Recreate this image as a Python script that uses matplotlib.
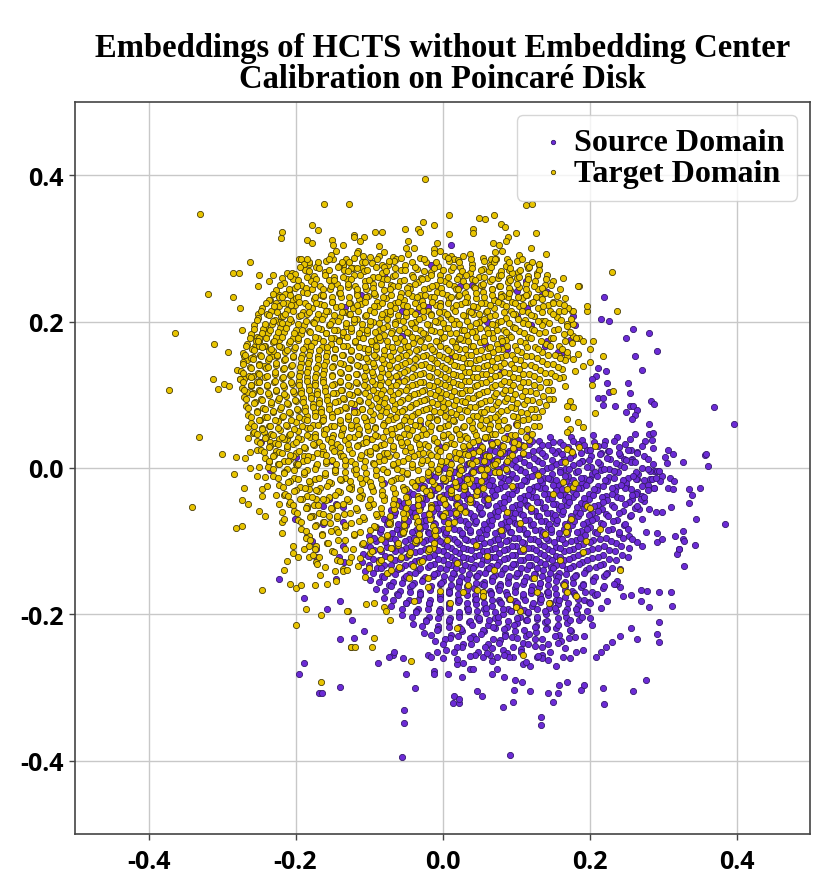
import numpy as np
import matplotlib
matplotlib.use("Agg")
import matplotlib.pyplot as plt

# ---------------- data: flat x,y pairs, in thousandths of the axis unit ----------------
title_text = "Embeddings of HCTS without Embedding Center\nCalibration on Poincaré Disk"
series_labels = ["Source Domain", "Target Domain"]
tick_values = [-0.4, -0.2, 0.0, 0.2, 0.4]
tick_labels = ["-0.4", "-0.2", "0.0", "0.2", "0.4"]

target_outer = [
-330,347, -364,184, -372,107, -319,238, -311,170, -312,121, -297,115, -291,112, -305,108, -292,159,
-285,267, -277,267, -262,282, -285,233, -276,218, -273,188, -250,264, -251,249, -251,210, -236,256,
-231,264, -220,314, -218,323, -212,267, -205,267, -218,259, -222,237, -235,229, -227,226, -241,193,
-270,153, -266,147, -258,152, -253,179, -249,174, -255,167, -249,167, -242,167, -280,134, -276,121,
-270,121, -258,126, -249,119, -261,112, -266,104, -243,140, -232,153, -230,160, -226,174, -222,175,
-223,199, -220,208, -209,242, -203,229, -195,285, -182,279, -184,312, -178,307, -178,332, -170,325,
-161,360, -127,360, -150,312, -149,304, -135,304, -145,296, -149,286, -135,277, -120,318, -122,273,
-331,42, -300,19, -284,-8, -341,-53, -281,-82, -273,-79, -273,-44, -265,-49, -270,-27, -250,-59,
-242,-66, -281,15, -269,14, -265,56, -265,41, -258,48, -245,-167, -216,-140, -211,-127, -207,-158,
-200,-164, -192,-160, -174,-160, -157,-158, -186,-193, -200,-215, -165,-201, -165,-293, -128,-195, -124,-245,
-218,-89, -218,-74, -215,-70, -203,-107, -203,-116, -196,-122, -222,-49, -209,-49, -218,-60, -246,-29,
-246,-38, -239,-25, -226,-37, -216,-37, -253,-11, -242,-12, -262,0, -250,1, -236,8, -262,22,
-253,25, -243,49, -235,36, -226,23, -223,40, -212,40, -208,12, -199,5, -189,16, -181,-29,
-172,-42, -185,-52, -176,-66, -162,-74, -181,-93, -172,-107, -189,-111, -181,-121, -172,-129, -154,-66,
-145,-84, -146,-141, -135,-138, -127,-129, -145,-155,
186,248, 238,214, 205,173, 219,153, 232,105, 208,75, 200,162, 176,215, 178,214, 196,215,
196,221, 169,197, 177,197, 177,181, 186,177, 191,174, 159,153, 169,153, 177,149, 184,156,
191,140, 180,133, 200,145, 164,125, 166,112, 203,114, 173,92, 177,84, 169,85, 169,67,
184,63, 191,56, 173,53, 169,49, 186,29, 208,30, 169,26, 176,22, 166,8, 164,-19,
177,-26, 170,-29, 169,-79, 168,-88, 197,-52, 214,-84, 191,-115, 230,268,
-24,395, 114,359, 122,360, 9,345, 70,345, 49,341, 58,340, -26,336, -12,332, 80,334,
85,329, 42,326, 41,321, -51,327, -34,326, -31,322, -92,323, -82,322, 100,321, 127,321,
89,315, 86,310, 9,319, -120,316, -107,315, -112,310, -47,310, -49,300, -39,301, -8,307,
-12,299, -3,296, 69,308, 77,304, 120,300, 141,293, 28,289, 11,290, 15,286, 66,285,
73,285, 64,277, 81,297, -86,303, -86,289, -68,288, -74,278, -82,278, -115,297, -109,282,
-108,289, -193,285, -182,281, -135,277, -124,273, 115,277, 131,277, 91,271, 95,267, 164,260,
185,249, 54,248, 76,260, 89,234, 109,234, 115,236, 132,234, 146,214, 158,226, 136,201,
-43,-264, -124,-244, -119,-245, -96,-244, -93,-232, -72,-207, 20,-218, 109,-256, 241,-140, -130,-195,
-104,-186, -93,-184, -80,-190, -77,-196, -39,-182, -20,-162, -3,-168, 28,-170, 47,-166, 55,-170,
92,-179, 105,-196, 128,-170, 170,-170, 182,-175,
30,-60, 62,-42, 95,-25, 120,-55, 150,-35, 80,-85, 45,-105, 110,-110, 140,-90, 175,-70,
20,-130, 70,-140, 125,-150, 160,-125, 195,-100, 55,-175, 100,-190, 145,-185, 35,-160, 88,-60,
180,-20, 130,-10, -20,-150, 10,-185, 200,-55, 165,-160, 105,-75, 60,-120,
]

target_core_a = [
-152,291, -131,286, -117,294, -98,288, -80,295, -63,285, -47,292, -30,287, -12,294, 4,289, 21,284, 37,293, 55,287, 71,295, 88,286, 104,291,
-188,279, -172,274, -158,283, -141,276, -127,281, -110,273, -96,280, -80,275, -66,283, -51,277, -35,272, -22,281, -6,276, 9,283, 24,274, 40,279, 55,272, 70,281, 86,276, 101,283, 117,273, 131,279,
-201,265, -187,270, -175,262, -160,268, -148,261, -134,270, -121,264, -107,269, -95,261, -82,267, -68,262, -56,270, -42,264, -29,260, -16,268, -3,263, 11,270, 23,262, 37,267, 50,261, 63,269, 77,264, 90,260, 103,268, 116,262, 129,267, 142,263,
-216,253, -203,258, -192,250, -179,256, -167,249, -155,257, -143,252, -130,258, -119,249, -106,255, -94,251, -81,258, -70,250, -58,256, -45,248, -33,254, -21,259, -9,250, 3,256, 16,249, 28,255, 40,258, 52,250, 65,256, 77,249, 89,254, 101,259, 114,251, 126,256, 139,250, 151,255,
-226,243, -214,238, -201,246, -190,240, -178,245, -165,237, -153,244, -141,239, -129,247, -117,240, -104,245, -92,237, -80,243, -68,248, -56,239, -44,244, -31,237, -19,246, -7,241, 6,236, 18,244, 30,239, 43,247, 55,240, 67,245, 79,238, 92,243, 104,247, 117,239, 130,244, 146,238, 160,245,
-236,229, -223,233, -211,226, -199,232, -187,225, -175,231, -162,235, -150,227, -138,233, -126,225, -114,231, -102,235, -89,227, -77,232, -65,225, -53,230, -41,235, -28,228, -16,233, -4,225, 9,231, 21,235, 33,227, 45,232, 58,225, 70,230, 82,235, 95,227, 108,232, 121,226, 135,231, 151,227, 166,232,
-246,219, -234,214, -223,221, -212,216, -201,222, -190,213, -178,219, -167,224, -156,215, -145,220, -133,213, -122,219, -111,224, -99,216, -88,221, -77,213, -65,218, -54,223, -43,214, -32,220, -20,215, -9,222, 2,213, 14,218, 25,224, 36,215, 47,220, 59,213, 70,219, 81,224, 93,215, 104,221, 117,213, 130,218, 144,223, 158,215, 171,219,
-251,205, -239,210, -228,202, -217,208, -206,201, -195,207, -184,211, -172,203, -161,209, -150,201, -139,206, -127,211, -116,203, -105,208, -94,200, -83,206, -71,211, -60,202, -49,207, -38,200, -26,206, -15,211, -4,203, 8,208, 19,201, 30,207, 41,211, 53,202, 64,208, 75,200, 87,205, 99,210, 112,202, 125,207, 140,201, 156,206, 175,203,
-256,195, -244,190, -232,197, -221,191, -210,198, -199,189, -188,195, -176,199, -165,190, -154,196, -143,189, -131,194, -120,199, -109,190, -98,196, -86,188, -75,194, -64,199, -53,191, -41,196, -30,189, -19,195, -7,199, 4,191, 15,197, 27,189, 38,194, 49,199, 61,190, 72,196, 84,188, 96,193, 109,198, 122,190, 136,195, 152,189, 170,194,
-261,183, -249,178, -238,185, -226,179, -215,186, -204,177, -193,183, -181,187, -170,178, -159,184, -148,177, -136,182, -125,187, -114,179, -103,185, -91,176, -80,182, -69,187, -58,178, -46,184, -35,177, -24,183, -12,187, -1,178, 10,184, 22,176, 33,182, 44,187, 56,179, 67,184, 79,177, 91,182, 104,187, 117,179, 131,184, 147,177, 165,183, 182,178,
-266,169, -254,174, -243,166, -231,172, -220,165, -209,171, -197,175, -186,167, -175,172, -164,165, -152,170, -141,175, -130,166, -119,172, -107,164, -96,170, -85,175, -74,167, -62,172, -51,165, -40,171, -29,175, -17,166, -6,172, 5,164, 17,170, 28,175, 39,167, 51,172, 62,164, 74,170, 86,175, 99,166, 112,171, 126,165, 141,170, 158,166, 176,171,
-271,157, -259,162, -248,154, -236,160, -225,153, -214,159, -202,163, -191,155, -180,160, -169,153, -157,158, -146,163, -135,154, -124,160, -112,152, -101,158, -90,163, -79,155, -67,160, -56,153, -45,158, -34,163, -22,154, -11,160, 0,152, 12,158, 23,163, 34,155, 46,160, 57,152, 69,158, 81,163, 94,154, 107,159, 121,153, 136,158, 153,154, 170,159,
-272,145, -260,150, -249,142, -238,148, -226,141, -215,147, -204,151, -192,143, -181,148, -170,141, -159,146, -147,151, -136,142, -125,148, -114,140, -102,146, -91,151, -80,143, -69,148, -57,141, -46,146, -35,151, -24,142, -12,148, -1,140, 10,146, 22,151, 33,143, 45,148, 56,140, 68,146, 80,151, 93,142, 106,147, 120,141, 135,146, 151,142, 166,147,
-274,133, -262,138, -251,130, -240,136, -228,129, -217,135, -206,139, -194,131, -183,136, -172,129, -161,134, -149,139, -138,130, -127,136, -116,128, -104,134, -93,139, -82,131, -71,136, -59,129, -48,134, -37,139, -26,130, -14,136, -3,128, 8,134, 20,139, 31,131, 43,136, 54,128, 66,134, 78,139, 91,130, 104,135, 118,129, 133,134, 148,130, 162,135,
-275,121, -263,126, -252,118, -241,124, -229,117, -218,123, -207,127, -195,119, -184,124, -173,117, -162,122, -150,127, -139,118, -128,124, -117,116, -105,122, -94,127, -83,119, -72,124, -60,117, -49,122, -38,127, -27,118, -15,124, -4,116, 7,122, 19,127, 30,119, 42,124, 53,116, 65,122, 77,127, 90,118, 103,123, 117,117, 131,122, 145,118, 158,123,
-273,109, -261,114, -250,106, -239,112, -227,105, -216,111, -205,115, -193,107, -182,112, -171,105, -160,110, -148,115, -137,106, -126,112, -115,104, -103,110, -92,115, -81,107, -70,112, -58,105, -47,110, -36,115, -25,106, -13,112, -2,104, 9,110, 21,115, 32,107, 44,112, 55,104, 67,110, 79,115, 92,106, 105,111, 119,105, 133,110, 149,106,
-270,97, -258,102, -247,94, -236,100, -224,93, -213,99, -202,103, -190,95, -179,100, -168,93, -157,98, -145,103, -134,94, -123,100, -112,92, -100,98, -89,103, -78,95, -67,100, -55,93, -44,98, -33,103, -22,94, -10,100, 1,92, 12,98, 24,103, 35,95, 47,100, 58,92, 70,98, 82,103, 95,94, 108,99, 122,93, 137,98, 150,94,
-267,85, -255,90, -244,82, -233,88, -221,81, -210,87, -199,91, -187,83, -176,88, -165,81, -154,86, -142,91, -131,82, -120,88, -109,80, -97,86, -86,91, -75,83, -64,88, -52,81, -41,86, -30,91, -19,82, -7,88, 4,80, 15,86, 27,91, 38,83, 50,88, 61,80, 73,86, 85,91, 98,82, 111,87, 126,81, 141,86,
-264,73, -252,78, -241,70, -230,76, -218,69, -207,75, -196,79, -184,71, -173,76, -162,69, -151,74, -139,79, -128,70, -117,76, -106,68, -94,74, -83,79, -72,71, -61,76, -49,69, -38,74, -27,79, -16,70, -4,76, 7,68, 18,74, 30,79, 41,71, 53,76, 64,68, 76,74, 88,79, 101,70, 115,75, 130,69,
-260,61, -248,66, -236,58, -224,64, -212,57, -200,63, -188,67, -176,59, -164,64, -152,57, -140,62, -128,67, -116,58, -104,64, -92,56, -80,62, -68,67, -56,59, -44,64, -32,57, -20,62, -8,67, 4,58, 16,64, 28,56, 40,62, 52,67, 64,59, 76,64, 89,56, 102,62, 116,67, 131,58,
-257,49, -245,54, -233,46, -221,52, -209,45, -197,51, -185,55, -173,47, -161,52, -149,45, -137,50, -125,55, -113,46, -101,52, -89,44, -77,50, -65,55, -53,47, -41,52, -29,45, -17,50, -5,55, 7,46, 19,52, 31,44, 43,50, 55,55, 67,47, 80,52, 93,45, 107,50, 122,46,
-252,37, -240,42, -228,34, -216,40, -204,33, -192,39, -180,43, -168,35, -156,40, -144,33, -132,38, -120,43, -108,34, -96,40, -84,32, -72,38, -60,43, -48,35, -36,40, -24,33, -12,38, 0,43, 12,34, 24,40, 36,32, 48,38, 61,43, 74,35, 88,40, 103,33, 118,38,
-247,25, -235,30, -223,22, -211,28, -199,21, -187,27, -175,31, -163,23, -151,28, -139,21, -127,26, -115,31, -103,22, -91,28, -79,20, -67,26, -55,31, -43,23, -31,28, -19,21, -7,26, 5,31, 17,22, 29,28, 41,20, 54,26, 67,31, 81,23, 96,28, 110,21,
-242,13, -229,18, -216,10, -203,16, -190,9, -177,15, -164,19, -151,11, -138,16, -125,9, -112,14, -99,19, -86,10, -73,16, -60,8, -47,14, -34,19, -21,11, -8,16, 5,9, 18,14, 31,19, 45,10, 59,16, 74,9, 90,14,
-237,1, -224,6, -211,-2, -198,4, -185,-3, -172,3, -159,7, -146,-1, -133,4, -120,-3, -107,2, -94,7, -81,-2, -68,4, -55,-4, -42,2, -29,7, -16,-1, -3,4, 10,-3, 24,2, 38,7, 53,-2, 69,4, 86,-1,
-230,-11, -216,-6, -202,-14, -188,-8, -174,-15, -160,-9, -146,-5, -132,-13, -118,-8, -104,-15, -90,-10, -76,-5, -62,-14, -48,-8, -34,-16, -20,-10, -6,-5, 8,-13, 23,-8, 39,-15, 56,-10, 72,-6,
-222,-23, -208,-18, -194,-26, -180,-20, -166,-27, -152,-21, -138,-17, -124,-25, -110,-20, -96,-27, -82,-22, -68,-17, -54,-26, -40,-20, -26,-28, -12,-22, 3,-17, 19,-25, 36,-20, 55,-27,
-214,-35, -199,-30, -184,-38, -169,-32, -154,-39, -139,-33, -124,-29, -109,-37, -94,-32, -79,-39, -64,-34, -49,-29, -34,-38, -19,-32, -4,-40, 12,-34, 29,-29, 46,-37,
-207,-47, -191,-42, -175,-50, -159,-44, -143,-51, -127,-45, -111,-41, -95,-49, -79,-44, -63,-51, -47,-46, -31,-41, -15,-50, 2,-44, 20,-51, 37,-46,
-202,-59, -185,-54, -168,-62, -151,-56, -134,-63, -117,-57, -100,-53, -83,-61, -66,-56, -49,-63, -32,-58, -15,-53, 3,-62, 22,-57,
-197,-71, -179,-66, -161,-74, -143,-68, -125,-75, -107,-69, -89,-65, -71,-73, -53,-68, -35,-75, -17,-70, 1,-65, 16,-74,
-192,-83, -172,-78, -152,-86, -132,-80, -112,-87, -92,-81, -72,-77, -52,-85, -32,-80, -12,-87, 8,-82,
-186,-95, -164,-90, -142,-98, -120,-92, -98,-99, -76,-93, -54,-89, -32,-97, -10,-92, 6,-99,
-181,-107, -157,-102, -133,-110, -109,-104, -85,-111, -61,-105, -37,-101, -13,-109,
-176,-119, -150,-114, -124,-122, -98,-116, -72,-123, -46,-117, -20,-113,
-171,-131, -143,-126, -115,-134, -87,-128, -59,-135, -31,-129,
-166,-146, -136,-141, -106,-149, -76,-143, -46,-150,
]

target_core_b = [
-185,286, -169,281, -154,285, -137,282, -121,287, -105,281, -89,286, -73,283, -57,287, -41,281, -25,285, -9,282, 7,287, 23,281, 39,285, 56,283, 72,286, 90,281, 108,285, 122,282,
-194,274, -181,269, -168,273, -155,270, -142,275, -129,269, -116,273, -103,270, -90,275, -77,269, -64,273, -51,270, -38,275, -25,269, -12,273, 1,270, 14,275, 27,269, 40,273, 53,270, 66,275, 79,269, 92,273, 105,270, 118,275, 131,270,
-208,262, -196,257, -184,261, -172,258, -160,263, -148,257, -136,261, -124,258, -112,263, -100,257, -88,261, -76,258, -64,263, -52,257, -40,261, -28,258, -16,263, -4,257, 8,261, 20,258, 32,263, 44,257, 56,261, 68,258, 80,263, 92,257, 104,261, 116,258, 128,263, 141,258,
-221,250, -209,245, -198,249, -186,246, -175,251, -163,245, -152,249, -140,246, -129,251, -117,245, -106,249, -94,246, -83,251, -71,245, -60,249, -48,246, -37,251, -25,245, -14,249, -2,246, 9,251, 21,245, 32,249, 44,246, 55,251, 67,245, 78,249, 90,246, 101,251, 113,245, 124,249, 136,246, 148,250,
-231,238, -219,233, -208,237, -196,234, -185,239, -173,233, -162,237, -150,234, -139,239, -127,233, -116,237, -104,234, -93,239, -81,233, -70,237, -58,234, -47,239, -35,233, -24,237, -12,234, -1,239, 11,233, 22,237, 34,234, 45,239, 57,233, 68,237, 80,234, 91,239, 103,233, 114,237, 127,234, 140,239, 156,235,
-240,226, -229,221, -217,225, -206,222, -195,227, -183,221, -172,225, -161,222, -150,227, -138,221, -127,225, -116,222, -105,227, -93,221, -82,225, -71,222, -60,227, -48,221, -37,225, -26,222, -14,227, -3,221, 8,225, 19,222, 31,227, 42,221, 53,225, 64,222, 76,227, 87,221, 98,225, 110,222, 123,227, 137,221, 151,225, 165,222,
-247,214, -236,209, -225,213, -214,210, -203,215, -192,209, -181,213, -170,210, -159,215, -148,209, -137,213, -126,210, -115,215, -104,209, -93,213, -82,210, -71,215, -60,209, -49,213, -38,210, -27,215, -16,209, -5,213, 6,210, 17,215, 28,209, 39,213, 50,210, 61,215, 72,209, 84,213, 96,210, 108,215, 121,209, 135,213, 150,210, 165,214,
-252,202, -241,197, -230,201, -219,198, -208,203, -197,197, -186,201, -175,198, -164,203, -153,197, -142,201, -131,198, -120,203, -109,197, -98,201, -87,198, -76,203, -65,197, -54,201, -43,198, -32,203, -21,197, -10,201, 1,198, 12,203, 23,197, 34,201, 45,198, 56,203, 67,197, 79,201, 91,198, 103,203, 116,197, 130,201, 145,198, 161,202,
-257,190, -246,185, -235,189, -224,186, -213,191, -202,185, -191,189, -180,186, -169,191, -158,185, -147,189, -136,186, -125,191, -114,185, -103,189, -92,186, -81,191, -70,185, -59,189, -48,186, -37,191, -26,185, -15,189, -4,186, 7,191, 18,185, 29,189, 40,186, 51,191, 62,185, 74,189, 86,186, 98,191, 111,185, 125,189, 140,186, 157,190, 174,186,
-262,178, -251,173, -240,177, -229,174, -218,179, -207,173, -196,177, -185,174, -174,179, -163,173, -152,177, -141,174, -130,179, -119,173, -108,177, -97,174, -86,179, -75,173, -64,177, -53,174, -42,179, -31,173, -20,177, -9,174, 2,179, 13,173, 24,177, 35,174, 46,179, 57,173, 69,177, 81,174, 93,179, 106,173, 120,177, 134,174, 150,178, 167,174,
-267,166, -256,161, -245,165, -234,162, -223,167, -212,161, -201,165, -190,162, -179,167, -168,161, -157,165, -146,162, -135,167, -124,161, -113,165, -102,162, -91,167, -80,161, -69,165, -58,162, -47,167, -36,161, -25,165, -14,162, -3,167, 8,161, 19,165, 30,162, 41,167, 52,161, 64,165, 76,162, 88,167, 101,161, 115,165, 130,162, 146,166, 163,162,
-269,154, -258,149, -247,153, -236,150, -225,155, -214,149, -203,153, -192,150, -181,155, -170,149, -159,153, -148,150, -137,155, -126,149, -115,153, -104,150, -93,155, -82,149, -71,153, -60,150, -49,155, -38,149, -27,153, -16,150, -5,155, 6,149, 17,153, 28,150, 39,155, 50,149, 62,153, 74,150, 86,155, 99,149, 113,153, 128,150, 144,154, 160,150,
-271,142, -260,137, -249,141, -238,138, -227,143, -216,137, -205,141, -194,138, -183,143, -172,137, -161,141, -150,138, -139,143, -128,137, -117,141, -106,138, -95,143, -84,137, -73,141, -62,138, -51,143, -40,137, -29,141, -18,138, -7,143, 4,137, 15,141, 26,138, 37,143, 48,137, 60,141, 72,138, 84,143, 97,137, 111,141, 126,138, 142,142, 157,138,
-272,130, -261,125, -250,129, -239,126, -228,131, -217,125, -206,129, -195,126, -184,131, -173,125, -162,129, -151,126, -140,131, -129,125, -118,129, -107,126, -96,131, -85,125, -74,129, -63,126, -52,131, -41,125, -30,129, -19,126, -8,131, 3,125, 14,129, 25,126, 36,131, 47,125, 59,129, 71,126, 83,131, 96,125, 110,129, 125,126, 140,130, 153,126,
-272,118, -261,113, -250,117, -239,114, -228,119, -217,113, -206,117, -195,114, -184,119, -173,113, -162,117, -151,114, -140,119, -129,113, -118,117, -107,114, -96,119, -85,113, -74,117, -63,114, -52,119, -41,113, -30,117, -19,114, -8,119, 3,113, 14,117, 25,114, 36,119, 47,113, 59,117, 71,114, 83,119, 96,113, 110,117, 125,114, 141,118,
-270,106, -259,101, -248,105, -237,102, -226,107, -215,101, -204,105, -193,102, -182,107, -171,101, -160,105, -149,102, -138,107, -127,101, -116,105, -105,102, -94,107, -83,101, -72,105, -61,102, -50,107, -39,101, -28,105, -17,102, -6,107, 5,101, 16,105, 27,102, 38,107, 49,101, 61,105, 73,102, 85,107, 98,101, 112,105, 127,102, 143,106,
-267,94, -256,89, -245,93, -234,90, -223,95, -212,89, -201,93, -190,90, -179,95, -168,89, -157,93, -146,90, -135,95, -124,89, -113,93, -102,90, -91,95, -80,89, -69,93, -58,90, -47,95, -36,89, -25,93, -14,90, -3,95, 8,89, 19,93, 30,90, 41,95, 52,89, 64,93, 76,90, 88,95, 101,89, 115,93, 131,90, 145,94,
-264,82, -253,77, -242,81, -231,78, -220,83, -209,77, -198,81, -187,78, -176,83, -165,77, -154,81, -143,78, -132,83, -121,77, -110,81, -99,78, -88,83, -77,77, -66,81, -55,78, -44,83, -33,77, -22,81, -11,78, 0,83, 11,77, 22,81, 33,78, 44,83, 56,77, 68,81, 80,78, 93,83, 107,77, 121,81, 136,78,
-261,70, -250,65, -239,69, -228,66, -217,71, -206,65, -195,69, -184,66, -173,71, -162,65, -151,69, -140,66, -129,71, -118,65, -107,69, -96,66, -85,71, -74,65, -63,69, -52,66, -41,71, -30,65, -19,69, -8,66, 3,71, 14,65, 25,69, 36,66, 47,71, 59,65, 71,69, 83,66, 96,71, 110,65, 124,69,
-257,58, -246,53, -235,57, -224,54, -213,59, -202,53, -191,57, -180,54, -169,59, -158,53, -147,57, -136,54, -125,59, -114,53, -103,57, -92,54, -81,59, -70,53, -59,57, -48,54, -37,59, -26,53, -15,57, -4,54, 7,59, 18,53, 29,57, 40,54, 51,59, 63,53, 75,57, 88,54, 101,59, 115,53, 125,57,
-253,46, -242,41, -230,45, -219,42, -207,47, -196,41, -184,45, -173,42, -161,47, -150,41, -138,45, -127,42, -115,47, -104,41, -92,45, -81,42, -69,47, -58,41, -46,45, -35,42, -23,47, -12,41, 0,45, 11,42, 23,47, 34,41, 46,45, 58,42, 71,47, 84,41, 98,45, 113,42,
-248,34, -236,29, -224,33, -212,30, -200,35, -188,29, -176,33, -164,30, -152,35, -140,29, -128,33, -116,30, -104,35, -92,29, -80,33, -68,30, -56,35, -44,29, -32,33, -20,30, -8,35, 4,29, 16,33, 28,30, 41,35, 54,29, 68,33, 82,30, 97,35, 111,30,
-243,22, -231,17, -219,21, -207,18, -195,23, -183,17, -171,21, -159,18, -147,23, -135,17, -123,21, -111,18, -99,23, -87,17, -75,21, -63,18, -51,23, -39,17, -27,21, -15,18, -3,23, 9,17, 22,21, 35,18, 49,23, 63,17, 78,21, 94,18,
-236,10, -223,5, -210,9, -197,6, -184,11, -171,5, -158,9, -145,6, -132,11, -119,5, -106,9, -93,6, -80,11, -67,5, -54,9, -41,6, -28,11, -15,5, -2,9, 11,6, 25,11, 40,5, 56,9, 72,6, 88,10,
-230,-2, -216,-7, -202,-3, -188,-6, -174,-1, -160,-7, -146,-3, -132,-6, -118,-1, -104,-7, -90,-3, -76,-6, -62,-1, -48,-7, -34,-3, -20,-6, -6,-1, 9,-7, 25,-3, 42,-6, 60,-2, 77,-5,
-224,-14, -210,-19, -196,-15, -182,-18, -168,-13, -154,-19, -140,-15, -126,-18, -112,-13, -98,-19, -84,-15, -70,-18, -56,-13, -42,-19, -28,-15, -14,-18, 1,-13, 17,-19, 34,-15, 52,-18,
-217,-26, -202,-31, -187,-27, -172,-30, -157,-25, -142,-31, -127,-27, -112,-30, -97,-25, -82,-31, -67,-27, -52,-30, -37,-25, -22,-31, -6,-27, 11,-30, 29,-25, 47,-31,
-210,-38, -194,-43, -178,-39, -162,-42, -146,-37, -130,-43, -114,-39, -98,-42, -82,-37, -66,-43, -50,-39, -34,-42, -17,-37, 1,-43, 20,-39, 38,-42,
-203,-50, -186,-55, -169,-51, -152,-54, -135,-49, -118,-55, -101,-51, -84,-54, -67,-49, -50,-55, -33,-51, -15,-54, 4,-49, 24,-55,
-198,-62, -180,-67, -162,-63, -144,-66, -126,-61, -108,-67, -90,-63, -72,-66, -54,-61, -36,-67, -18,-63, 0,-66, 18,-61,
-193,-74, -173,-79, -153,-75, -133,-78, -113,-73, -93,-79, -73,-75, -53,-78, -33,-73, -13,-79, 8,-75,
-186,-86, -164,-91, -142,-87, -120,-90, -98,-85, -76,-91, -54,-87, -32,-90, -10,-85,
-180,-98, -156,-103, -132,-99, -108,-102, -84,-97, -60,-103, -36,-99, -12,-102,
-174,-110, -148,-115, -122,-111, -96,-114, -70,-109, -44,-115, -18,-111,
-168,-122, -140,-127, -112,-123, -84,-126, -56,-121, -28,-127,
-160,-135, -130,-140, -100,-136, -70,-139, -40,-134,
]

source_outer = [
-247,36, -235,-3, -200,15, -201,-70, -223,-151, -188,-178, -157,-192, -139,-182, -123,-207, -139,-233,
-120,-232, -188,-266, -195,-281, -168,-308, -164,-308, -139,-299, -185,-93, -178,-100, -172,-111, -172,-121,
-162,-77, -162,-52, -154,-42, -145,-49, -135,-53, -135,-74, -145,-152, -135,-107, -134,-129, -141,-121,
220,234, 216,203, 226,201, 259,190, 281,185, 250,178, 292,160, 262,153, 272,134, 223,133,
212,136, 209,126, 204,122, 253,116, 255,103, 224,116, 227,104, 284,92, 288,88, 370,84,
396,60, 255,85, 259,85, 264,79, 262,73, 250,77, 258,67, 235,85, 218,86, 211,96,
218,96, 281,60, 262,47, 281,47, 286,48, 285,38, 276,37, 286,27, 264,22, 258,12,
247,12, 307,25, 314,19, 303,15, 305,7, 327,8, 357,18, 359,19, 361,3, 288,-4,
292,-4, 282,-15, 285,-15, 309,-14, 315,-18, 307,-27, 314,-29, 335,-29, 350,-27, 339,-37,
336,-48, 288,-27, 311,-53, 345,-70, 385,-77, 327,-86, 327,-97, 316,-93, 343,-105, 322,-110,
319,-118, 292,-89, 292,-101, 299,-97, 272,-70, 281,-56, 274,-45, 268,-56, 291,-60, 299,-60,
265,-15, 264,-33, 272,-38, 258,-42, 250,-25, 277,-88, 272,-107, 264,-101, 254,-93,
11,305, -16,277, -80,263, -111,236, -132,220, -55,215, -34,214, -3,225, 24,248, 42,218,
72,229, 101,242, 114,256, 135,237, 142,241, 115,218, 101,208, 120,196, 177,208, 180,195,
174,175, 164,158, 157,158, 139,166, 142,173, 58,170, 78,170, 88,163,
-55,-395, -53,-348, -53,-330, 92,-392, 134,-340, 134,-351, 82,-326, 96,-319, -38,-301, -49,-282,
14,-321, 23,-321, 15,-311, 23,-315, 47,-304, 54,-312, 68,-282, 74,-275, 84,-285, 99,-289,
97,-303, 108,-293, 119,-304, 143,-307, 150,-319, 157,-307, 159,-297, 170,-293, 189,-303, 192,-296,
218,-300, 220,-323, 259,-305, 277,-290, -12,-278, -12,-282, 8,-282, 27,-285, 38,-275, -107,-223,
-88,-266, -68,-255, -73,-258, -66,-252, -54,-260, -20,-255, -16,-258, -7,-252, 0,-259, 20,-268,
28,-266, 42,-275, 55,-258, 65,-255, 74,-258, 82,-248, 96,-258, 109,-268, 119,-271, 128,-258,
136,-255, 143,-262, 155,-271, 164,-258, 173,-259, 182,-252, 191,-248, 209,-258, 216,-251, 223,-244,
231,-238, 241,-230, 257,-218, 264,-234, 295,-238, 292,-227, 295,-210, 312,-189, 311,-170, 322,-111,
328,-134, 328,-100, 281,-190, 270,-182, 257,-173, 241,-163, 245,-175, 236,-159, 270,-166, 278,-168,
295,-170,
-30,60, -60,120, 10,150, -100,40, -150,10, -80,-20, 30,90, 60,200, -20,220, 80,130,
-120,80, 40,250, -55,180, 100,60, -170,-30, -5,30,
]

source_core_a = [
58,41, 73,36, 88,44, 103,38, 117,45, 131,37, 146,43, 160,36, 175,42, 190,38, 205,45, 221,37, 238,43, 255,39,
38,27, 51,32, 64,24, 78,30, 91,23, 104,29, 118,33, 131,25, 144,31, 157,23, 171,29, 184,33, 197,25, 211,30, 225,23, 240,29, 256,24, 272,30,
18,15, 30,20, 42,12, 55,18, 67,11, 79,17, 91,21, 104,13, 116,18, 128,11, 140,16, 153,21, 165,12, 177,18, 190,10, 202,16, 215,21, 228,12, 242,18, 257,11, 274,16,
-2,3, 10,8, 22,0, 34,6, 46,-1, 58,5, 70,9, 82,1, 94,6, 106,-1, 118,4, 130,9, 142,0, 154,6, 166,-2, 178,4, 190,9, 202,1, 214,6, 227,-1, 241,4, 256,8, 272,0, 287,5,
-16,-9, -5,-4, 6,-12, 17,-6, 28,-13, 39,-7, 50,-3, 61,-11, 72,-6, 83,-13, 94,-8, 105,-3, 116,-12, 127,-6, 138,-14, 149,-8, 160,-3, 171,-11, 182,-6, 193,-13, 204,-8, 215,-3, 227,-12, 239,-6, 252,-13, 266,-8, 282,-4, 299,-11,
-31,-21, -19,-16, -8,-24, 3,-18, 14,-25, 25,-19, 36,-15, 47,-23, 58,-18, 69,-25, 80,-20, 91,-15, 102,-24, 113,-18, 124,-26, 135,-20, 146,-15, 157,-23, 168,-18, 179,-25, 190,-20, 201,-15, 212,-24, 224,-18, 236,-26, 249,-20, 263,-15, 279,-23, 296,-18,
-46,-33, -33,-28, -21,-36, -10,-30, 1,-37, 12,-31, 23,-27, 34,-35, 45,-30, 56,-37, 67,-32, 78,-27, 89,-36, 100,-30, 111,-38, 122,-32, 133,-27, 144,-35, 155,-30, 166,-37, 177,-32, 188,-27, 199,-36, 210,-30, 222,-38, 235,-32, 248,-27, 263,-35, 280,-30,
-60,-45, -47,-40, -34,-48, -22,-42, -10,-49, 1,-43, 12,-39, 23,-47, 34,-42, 45,-49, 56,-44, 67,-39, 78,-48, 89,-42, 100,-50, 111,-44, 122,-39, 133,-47, 144,-42, 155,-49, 166,-44, 177,-39, 188,-48, 199,-42, 211,-50, 224,-44, 238,-39, 254,-47, 270,-42,
-70,-57, -57,-52, -44,-60, -31,-54, -19,-61, -7,-55, 5,-51, 16,-59, 27,-54, 38,-61, 49,-56, 60,-51, 71,-60, 82,-54, 93,-62, 104,-56, 115,-51, 126,-59, 137,-54, 148,-61, 159,-56, 170,-51, 181,-60, 192,-54, 204,-62, 217,-56, 231,-51, 246,-59, 262,-54,
-80,-69, -66,-64, -53,-72, -40,-66, -28,-73, -16,-67, -4,-63, 8,-71, 19,-66, 30,-73, 41,-68, 52,-63, 63,-72, 74,-66, 85,-74, 96,-68, 107,-63, 118,-71, 129,-66, 140,-73, 151,-68, 162,-63, 173,-72, 184,-66, 196,-74, 209,-68, 223,-63, 238,-71, 255,-66,
-90,-81, -76,-76, -62,-84, -49,-78, -36,-85, -24,-79, -12,-75, 0,-83, 11,-78, 22,-85, 33,-80, 44,-75, 55,-84, 66,-78, 77,-86, 88,-80, 99,-75, 110,-83, 121,-78, 132,-85, 143,-80, 154,-75, 165,-84, 176,-78, 188,-86, 201,-80, 215,-75, 230,-83, 247,-78,
-100,-93, -85,-88, -71,-96, -58,-90, -45,-97, -32,-91, -20,-87, -8,-95, 4,-90, 15,-97, 26,-92, 37,-87, 48,-96, 59,-90, 70,-98, 81,-92, 92,-87, 103,-95, 114,-90, 125,-97, 136,-92, 147,-87, 158,-96, 169,-90, 181,-98, 194,-92, 208,-87, 223,-95, 240,-90, 258,-97,
-105,-105, -90,-100, -76,-108, -62,-102, -49,-109, -36,-103, -23,-99, -11,-107, 1,-102, 12,-109, 23,-104, 34,-99, 45,-108, 56,-102, 67,-110, 78,-104, 89,-99, 100,-107, 111,-102, 122,-109, 133,-104, 144,-99, 155,-108, 166,-102, 178,-110, 191,-104, 205,-99, 220,-107, 236,-102, 254,-109,
-108,-117, -93,-112, -78,-120, -64,-114, -50,-121, -37,-115, -24,-111, -12,-119, 0,-114, 11,-121, 22,-116, 33,-111, 44,-120, 55,-114, 66,-122, 77,-116, 88,-111, 99,-119, 110,-114, 121,-121, 132,-116, 143,-111, 154,-120, 165,-114, 177,-122, 190,-116, 204,-111, 219,-119, 235,-114, 252,-121,
-110,-129, -94,-124, -79,-132, -65,-126, -51,-133, -38,-127, -25,-123, -12,-131, 0,-126, 11,-133, 22,-128, 33,-123, 44,-132, 55,-126, 66,-134, 77,-128, 88,-123, 99,-131, 110,-126, 121,-133, 132,-128, 143,-123, 154,-132, 165,-126, 177,-134, 190,-128, 204,-123, 219,-131, 236,-126,
-105,-141, -89,-136, -74,-144, -60,-138, -46,-145, -33,-139, -20,-135, -7,-143, 5,-138, 16,-145, 27,-140, 38,-135, 49,-144, 60,-138, 71,-146, 82,-140, 93,-135, 104,-143, 115,-138, 126,-145, 137,-140, 148,-135, 159,-144, 170,-138, 182,-146, 195,-140, 209,-135, 224,-143, 241,-138,
-98,-153, -82,-148, -67,-156, -53,-150, -39,-157, -26,-151, -13,-147, 0,-155, 12,-150, 23,-157, 34,-152, 45,-147, 56,-156, 67,-150, 78,-158, 89,-152, 100,-147, 111,-155, 122,-150, 133,-157, 144,-152, 155,-147, 166,-156, 178,-150, 191,-158, 205,-152, 220,-147, 237,-155,
-90,-165, -73,-160, -58,-168, -44,-162, -30,-169, -17,-163, -4,-159, 9,-167, 21,-162, 32,-169, 43,-164, 54,-159, 65,-168, 76,-162, 87,-170, 98,-164, 109,-159, 120,-167, 131,-162, 142,-169, 153,-164, 164,-159, 176,-168, 189,-162, 203,-170, 218,-164, 234,-159,
-80,-177, -62,-172, -46,-180, -31,-174, -17,-181, -4,-175, 9,-171, 21,-179, 33,-174, 44,-181, 55,-176, 66,-171, 77,-180, 88,-174, 99,-182, 110,-176, 121,-171, 132,-179, 143,-174, 154,-181, 166,-176, 179,-171, 193,-180, 208,-174, 224,-182,
-70,-189, -50,-184, -33,-192, -18,-186, -4,-193, 9,-187, 21,-183, 33,-191, 45,-186, 56,-193, 67,-188, 78,-183, 89,-192, 100,-186, 111,-194, 122,-188, 133,-183, 145,-191, 157,-186, 170,-193, 184,-188, 199,-183, 215,-191,
-55,-201, -36,-196, -19,-204, -4,-198, 10,-205, 23,-199, 35,-195, 47,-203, 59,-198, 71,-205, 82,-200, 93,-195, 105,-204, 117,-198, 129,-206, 141,-200, 154,-195, 168,-203, 183,-198, 200,-205,
-40,-213, -22,-208, -6,-216, 9,-210, 23,-217, 36,-211, 49,-207, 62,-215, 75,-210, 88,-217, 101,-212, 114,-207, 127,-216, 140,-210, 154,-218, 169,-212, 186,-207, 204,-215,
-25,-225, -6,-220, 11,-228, 27,-222, 42,-229, 57,-223, 71,-219, 85,-227, 99,-222, 113,-229, 127,-224, 142,-219, 158,-228, 175,-222, 193,-229,
-10,-237, 10,-232, 28,-240, 45,-234, 62,-241, 78,-235, 94,-231, 110,-239, 126,-234, 143,-241, 161,-236, 180,-231,
5,-249, 27,-244, 48,-252, 68,-246, 88,-253, 107,-247, 126,-243, 146,-251, 167,-246,
20,-261, 44,-256, 67,-264, 90,-258, 113,-265, 136,-259,
]

source_core_b = [
66,36, 80,31, 94,35, 108,32, 122,37, 136,31, 150,35, 164,32, 178,37, 192,31, 206,35, 220,32, 234,37, 248,33,
45,24, 58,19, 71,23, 84,20, 97,25, 110,19, 123,23, 136,20, 149,25, 162,19, 175,23, 188,20, 201,25, 214,19, 227,23, 240,20, 253,25, 265,21,
24,12, 36,7, 49,11, 61,8, 74,13, 86,7, 99,11, 111,8, 124,13, 136,7, 149,11, 161,8, 174,13, 186,7, 199,11, 211,8, 224,13, 236,7, 249,11, 262,8, 279,12,
4,0, 16,-5, 28,-1, 40,-4, 52,1, 64,-5, 76,-1, 88,-4, 100,1, 112,-5, 124,-1, 136,-4, 148,1, 160,-5, 172,-1, 184,-4, 196,1, 208,-5, 220,-1, 233,-4, 247,1, 263,-5, 280,-1, 294,-4,
-10,-12, 1,-17, 12,-13, 23,-16, 34,-11, 45,-17, 56,-13, 67,-16, 78,-11, 89,-17, 100,-13, 111,-16, 122,-11, 133,-17, 144,-13, 155,-16, 166,-11, 177,-17, 188,-13, 199,-16, 210,-11, 221,-17, 233,-13, 246,-16, 259,-11, 274,-17, 290,-13,
-25,-24, -14,-29, -3,-25, 8,-28, 19,-23, 30,-29, 41,-25, 52,-28, 63,-23, 74,-29, 85,-25, 96,-28, 107,-23, 118,-29, 129,-25, 140,-28, 151,-23, 162,-29, 173,-25, 184,-28, 195,-23, 206,-29, 218,-25, 230,-28, 243,-23, 256,-29, 271,-25, 288,-28,
-40,-36, -28,-41, -16,-37, -5,-40, 6,-35, 17,-41, 28,-37, 39,-40, 50,-35, 61,-41, 72,-37, 83,-40, 94,-35, 105,-41, 116,-37, 127,-40, 138,-35, 149,-41, 160,-37, 171,-40, 182,-35, 193,-41, 205,-37, 217,-40, 230,-35, 243,-41, 258,-37, 274,-40,
-53,-48, -40,-53, -28,-49, -16,-52, -4,-47, 7,-53, 18,-49, 29,-52, 40,-47, 51,-53, 62,-49, 73,-52, 84,-47, 95,-53, 106,-49, 117,-52, 128,-47, 139,-53, 150,-49, 161,-52, 172,-47, 183,-53, 194,-49, 206,-52, 219,-47, 233,-53, 248,-49, 264,-52,
-64,-60, -51,-65, -38,-61, -25,-64, -13,-59, -1,-65, 10,-61, 21,-64, 32,-59, 43,-65, 54,-61, 65,-64, 76,-59, 87,-65, 98,-61, 109,-64, 120,-59, 131,-65, 142,-61, 153,-64, 164,-59, 175,-65, 187,-61, 199,-64, 212,-59, 225,-65, 240,-61, 256,-64,
-74,-72, -60,-77, -47,-73, -34,-76, -22,-71, -10,-77, 2,-73, 13,-76, 24,-71, 35,-77, 46,-73, 57,-76, 68,-71, 79,-77, 90,-73, 101,-76, 112,-71, 123,-77, 134,-73, 145,-76, 156,-71, 167,-77, 179,-73, 191,-76, 204,-71, 218,-77, 232,-73, 248,-76,
-84,-84, -69,-89, -55,-85, -42,-88, -30,-83, -18,-89, -6,-85, 5,-88, 16,-83, 27,-89, 38,-85, 49,-88, 60,-83, 71,-89, 82,-85, 93,-88, 104,-83, 115,-89, 126,-85, 137,-88, 148,-83, 159,-89, 171,-85, 183,-88, 196,-83, 210,-89, 225,-85, 240,-88, 252,-84,
-93,-96, -78,-101, -64,-97, -51,-100, -39,-95, -27,-101, -15,-97, -3,-100, 9,-95, 20,-101, 31,-97, 42,-100, 53,-95, 64,-101, 75,-97, 86,-100, 97,-95, 108,-101, 119,-97, 130,-100, 141,-95, 152,-101, 163,-97, 175,-100, 187,-95, 200,-101, 214,-97, 229,-100, 246,-95,
-98,-108, -83,-113, -69,-109, -56,-112, -43,-107, -30,-113, -18,-109, -6,-112, 6,-107, 17,-113, 28,-109, 39,-112, 50,-107, 61,-113, 72,-109, 83,-112, 94,-107, 105,-113, 116,-109, 127,-112, 138,-107, 149,-113, 160,-109, 172,-112, 184,-107, 197,-113, 211,-109, 226,-112, 243,-107,
-102,-120, -86,-125, -72,-121, -58,-124, -45,-119, -32,-125, -19,-121, -6,-124, 6,-119, 17,-125, 28,-121, 39,-124, 50,-119, 61,-125, 72,-121, 83,-124, 94,-119, 105,-125, 116,-121, 127,-124, 138,-119, 149,-125, 160,-121, 172,-124, 184,-119, 197,-125, 211,-121, 227,-124, 244,-119,
-100,-132, -84,-137, -70,-133, -56,-136, -43,-131, -30,-137, -17,-133, -4,-136, 8,-131, 19,-137, 30,-133, 41,-136, 52,-131, 63,-137, 74,-133, 85,-136, 96,-131, 107,-137, 118,-133, 129,-136, 140,-131, 151,-137, 162,-133, 174,-136, 186,-131, 199,-137, 214,-133, 230,-136,
-95,-144, -79,-149, -64,-145, -50,-148, -37,-143, -24,-149, -11,-145, 2,-148, 14,-143, 25,-149, 36,-145, 47,-148, 58,-143, 69,-149, 80,-145, 91,-148, 102,-143, 113,-149, 124,-145, 135,-148, 146,-143, 157,-149, 168,-145, 180,-148, 193,-143, 207,-149, 222,-145,
-87,-156, -70,-161, -55,-157, -41,-160, -28,-155, -15,-161, -2,-157, 11,-160, 23,-155, 34,-161, 45,-157, 56,-160, 67,-155, 78,-161, 89,-157, 100,-160, 111,-155, 122,-161, 133,-157, 144,-160, 155,-155, 166,-161, 178,-157, 191,-160, 205,-155, 220,-161,
-78,-168, -60,-173, -44,-169, -30,-172, -17,-167, -4,-173, 9,-169, 21,-172, 33,-167, 44,-173, 55,-169, 66,-172, 77,-167, 88,-173, 99,-169, 110,-172, 121,-167, 132,-173, 143,-169, 155,-172, 167,-167, 180,-173, 194,-169, 210,-172,
-68,-180, -49,-185, -33,-181, -18,-184, -4,-179, 9,-185, 22,-181, 34,-184, 46,-179, 57,-185, 68,-181, 79,-184, 90,-179, 101,-185, 112,-181, 123,-184, 134,-179, 146,-185, 158,-181, 171,-184, 185,-179, 200,-185,
-55,-192, -36,-197, -20,-193, -5,-196, 9,-191, 22,-197, 35,-193, 47,-196, 59,-191, 71,-197, 82,-193, 93,-196, 104,-191, 116,-197, 128,-193, 140,-196, 153,-191, 167,-197, 182,-193, 196,-196,
-42,-204, -22,-209, -6,-205, 9,-208, 23,-203, 37,-209, 50,-205, 63,-208, 76,-203, 89,-209, 102,-205, 115,-208, 128,-203, 142,-209, 157,-205, 173,-208, 190,-203,
-28,-216, -8,-221, 9,-217, 25,-220, 40,-215, 55,-221, 69,-217, 83,-220, 97,-215, 111,-221, 126,-217, 141,-220, 157,-215, 174,-221,
-15,-228, 4,-233, 21,-229, 37,-232, 53,-227, 69,-233, 85,-229, 101,-232, 118,-227, 135,-233, 153,-229, 172,-232,
0,-240, 20,-245, 39,-241, 58,-244, 77,-239, 96,-245, 116,-241, 136,-244, 157,-239,
15,-252, 38,-257, 61,-253, 84,-256, 107,-251, 130,-257,
]

source_color = "#6c2bd6"
source_edge = "#34186e"
target_color = "#e8c400"
target_edge = "#4a3e08"

# ---------------- figure ----------------
src = np.array(source_outer + source_core_a + source_core_b, dtype=float).reshape(-1, 2) / 1000.0
tgt = np.array(target_outer + target_core_a + target_core_b, dtype=float).reshape(-1, 2) / 1000.0

fig = plt.figure(figsize=(8.3, 8.78), dpi=100)
ax = fig.add_axes([75/830, 43/878, 735/830, 732/878])

ax.scatter(src[:, 0], src[:, 1], s=20, c=source_color, edgecolors=source_edge,
           linewidths=0.6, label=series_labels[0], zorder=2)
ax.scatter(tgt[:, 0], tgt[:, 1], s=20, c=target_color, edgecolors=target_edge,
           linewidths=0.6, label=series_labels[1], zorder=3)

ax.set_xlim(-0.5, 0.5)
ax.set_ylim(-0.5, 0.5)
ax.set_xticks(tick_values)
ax.set_yticks(tick_values)
ax.set_xticklabels(tick_labels)
ax.set_yticklabels(tick_labels)
ax.grid(True, color="#c8c8c8", linewidth=1.0, zorder=0)
ax.set_axisbelow(True)
for sp in ax.spines.values():
    sp.set_color("#444444")
    sp.set_linewidth(1.2)
ax.tick_params(direction="out", length=4, width=1, color="#444444")
ax.tick_params(axis="x", pad=7)
ax.tick_params(axis="y", pad=4)
for lab in ax.get_xticklabels() + ax.get_yticklabels():
    lab.set_fontfamily(["Open Sans", "DejaVu Sans"])
    lab.set_fontweight("bold")
    lab.set_fontsize(18)

ax.set_title(title_text, fontsize=23.5, fontweight="bold",
             family=["Liberation Serif", "DejaVu Serif"], pad=11, linespacing=1.0)

leg = ax.legend(loc="upper right", prop={"family": ["Liberation Serif", "DejaVu Serif"],
                "weight": "bold", "size": 23}, markerscale=0.7, labelspacing=0.05,
                borderaxespad=0.4, handletextpad=-0.07, borderpad=0.4, framealpha=0.8,
                handlelength=1.45)

fig.savefig("out.png", dpi=100)
